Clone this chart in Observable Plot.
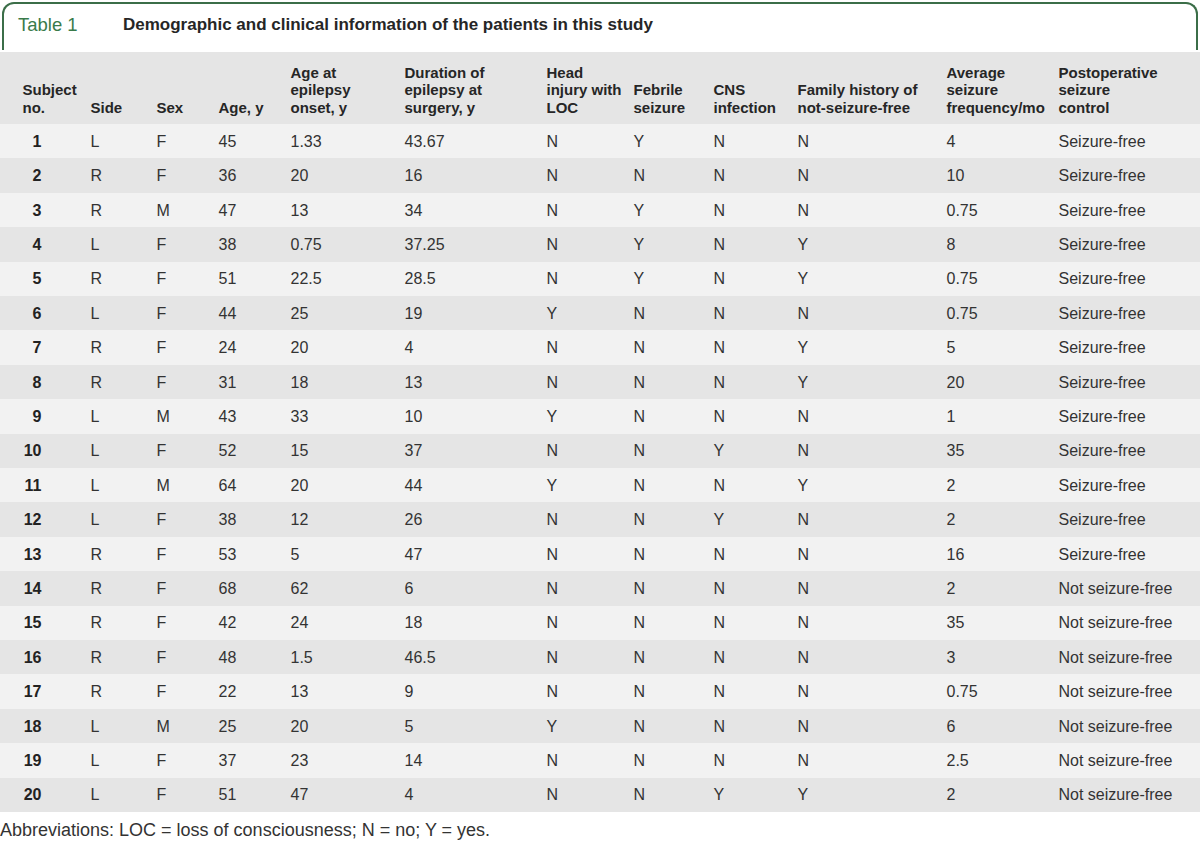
<!DOCTYPE html>
<html>
<head>
<meta charset="utf-8">
<script src="https://cdn.jsdelivr.net/npm/d3@7"></script>
<script src="https://cdn.jsdelivr.net/npm/@observablehq/plot@0.6"></script>
<style>
  html, body { margin: 0; padding: 0; background: #fff; width: 1200px; height: 846px; overflow: hidden; }
  body { position: relative; font-family: "Liberation Sans", Arial, sans-serif; color: #333; }
  #frame { position: absolute; left: 2px; top: 2px; width: 1192px; height: 46px;
           border: 2px solid #3b6e48; border-bottom: none; border-radius: 12px 12px 0 0; }
  #tlabel { position: absolute; left: 18px; top: 14px; font-size: 18.5px; color: #3a7a4a; }
  #title { position: absolute; left: 123px; top: 15px; font-size: 17px; font-weight: bold; color: #262626; }
  #chart { position: absolute; left: 0; top: 52px; }
  #caption { position: absolute; left: 0; top: 820px; font-size: 18px; color: #333; }
</style>
</head>
<body>
<div id="frame"></div>
<div id="tlabel">Table 1</div>
<div id="title">Demographic and clinical information of the patients in this study</div>
<div id="chart"></div>
<div id="caption">Abbreviations: LOC = loss of consciousness; N = no; Y = yes.</div>
<script>
// ---- data ----
const headers = [
  "Subject\nno.", "Side", "Sex", "Age, y", "Age at\nepilepsy\nonset, y",
  "Duration of\nepilepsy at\nsurgery, y", "Head\ninjury with\nLOC", "Febrile\nseizure",
  "CNS\ninfection", "Family history of\nnot-seizure-free", "Average\nseizure\nfrequency/mo",
  "Postoperative\nseizure\ncontrol"
];
const subject = ["1","2","3","4","5","6","7","8","9","10","11","12","13","14","15","16","17","18","19","20"];
const side = ["L","R","R","L","R","L","R","R","L","L","L","L","R","R","R","R","R","L","L","L"];
const sex = ["F","F","M","F","F","F","F","F","M","F","M","F","F","F","F","F","F","M","F","F"];
const age = ["45","36","47","38","51","44","24","31","43","52","64","38","53","68","42","48","22","25","37","51"];
const onset = ["1.33","20","13","0.75","22.5","25","20","18","33","15","20","12","5","62","24","1.5","13","20","23","47"];
const duration = ["43.67","16","34","37.25","28.5","19","4","13","10","37","44","26","47","6","18","46.5","9","5","14","4"];
const headInjury = ["N","N","N","N","N","Y","N","N","Y","N","Y","N","N","N","N","N","N","Y","N","N"];
const febrile = ["Y","N","Y","Y","Y","N","N","N","N","N","N","N","N","N","N","N","N","N","N","N"];
const cns = ["N","N","N","N","N","N","N","N","N","Y","N","Y","N","N","N","N","N","N","N","Y"];
const family = ["N","N","N","Y","Y","N","Y","Y","N","N","Y","N","N","N","N","N","N","N","N","Y"];
const frequency = ["4","10","0.75","8","0.75","0.75","5","20","1","35","2","2","16","2","35","3","0.75","6","2.5","2"];
const control = ["Seizure-free","Seizure-free","Seizure-free","Seizure-free","Seizure-free","Seizure-free",
  "Seizure-free","Seizure-free","Seizure-free","Seizure-free","Seizure-free","Seizure-free","Seizure-free",
  "Not seizure-free","Not seizure-free","Not seizure-free","Not seizure-free","Not seizure-free",
  "Not seizure-free","Not seizure-free"];

// ---- layout ----
const colX = [41, 90, 156, 218, 290, 404, 546, 633, 713, 797, 946, 1058];
const rowH = 34.4, headerH = 72, svgH = 760;
const headerRows = headerH / rowH;
const columns = [side, sex, age, onset, duration, headInjury, febrile, cns, family, frequency, control];

const rows = subject.map((s, i) => ({i}));
const cells = [];
subject.forEach((s, i) => {
  columns.forEach((col, c) => cells.push({i, c: c + 1, text: col[i]}));
});
const hdr = headers.map((h, c) => ({c, text: h}));

const plot = Plot.plot({
  width: 1200, height: svgH,
  margin: 0,
  x: {type: "linear", domain: [0, 1200], range: [0, 1200], axis: null},
  y: {type: "linear", domain: [-headerRows, svgH / rowH - headerRows], range: [0, svgH], axis: null},
  style: {fontFamily: "'Liberation Sans', Arial, sans-serif"},
  marks: [
    Plot.rect([0], {x1: 0, x2: 1200, y1: -headerRows, y2: 0, fill: "#e5e5e5"}),
    Plot.rect(rows, {x1: 0, x2: 1200, y1: d => d.i, y2: d => d.i + 1,
      fill: d => d.i % 2 === 0 ? "#f2f2f2" : "#e5e5e5"}),
    Plot.text(hdr, {x: d => colX[d.c] - (d.c === 0 ? 19 : 0), y: -(headerH - 60.5) / rowH,
      text: "text", textAnchor: "start", lineAnchor: "bottom", lineHeight: 1.17,
      fontSize: 15, fontWeight: "bold", fill: "#262626"}),
    Plot.text(subject.map((s, i) => ({i, s})), {x: () => colX[0], y: d => d.i + 0.5, text: "s",
      textAnchor: "end", fontSize: 16, fontWeight: "bold", fill: "#222"}),
    Plot.text(cells, {x: d => colX[d.c], y: d => d.i + 0.5, text: "text",
      textAnchor: "start", fontSize: 16, fill: "#333"})
  ]
});
plot.querySelectorAll("rect").forEach(r => r.setAttribute("shape-rendering", "crispEdges"));
document.getElementById("chart").appendChild(plot);
</script>
</body>
</html>
